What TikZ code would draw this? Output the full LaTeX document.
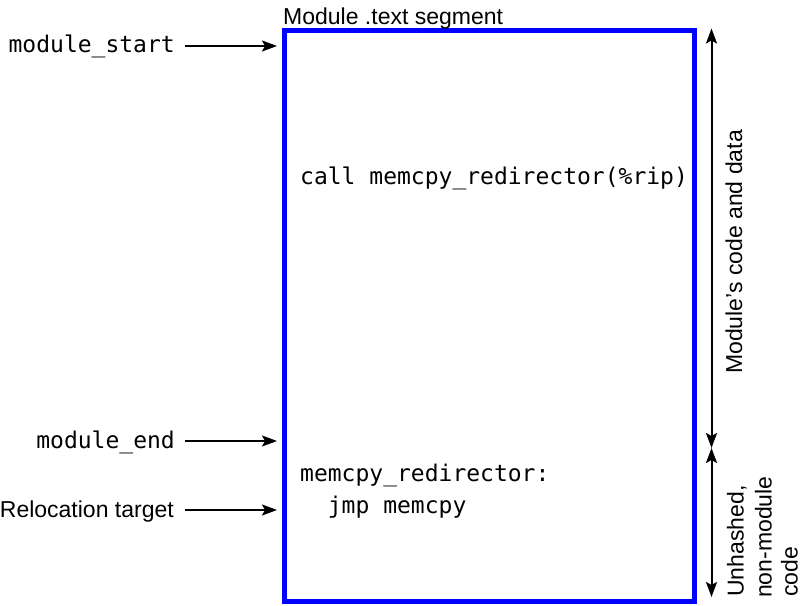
\documentclass[tikz,border=0pt]{standalone}
\usepackage{fontspec}
\setmainfont{Liberation Sans}
\setmonofont{DejaVu Sans Mono}
\usetikzlibrary{arrows.meta}
\begin{document}
\begin{tikzpicture}[x=1pt,y=1pt,
  lbl/.style={font=\fontsize{23}{26}\selectfont, inner sep=0pt},
  mlbl/.style={font=\fontsize{23}{26}\ttfamily, inner sep=0pt},
  code/.style={font=\fontsize{23}{31}\ttfamily, inner sep=0pt},
  arr/.style={-{Stealth[length=15pt,width=11pt,inset=3pt]}, line width=2pt},
  darr/.style={{Stealth[length=15pt,width=11pt,inset=3pt]}-{Stealth[length=15pt,width=11pt,inset=3pt]}, line width=2pt},
  segbox/.style={draw=blue, line width=5pt}]
\useasboundingbox (0,0) rectangle (800,605);
% box
\draw[segbox] (284,4) rectangle (694,574.3);
\node[lbl, anchor=base west] (title) at (283,580) {Module .text segment};
% left labels
\node[mlbl, anchor=base east] (ms) at (175,552) {module\_start};
\node[mlbl, anchor=base east] (me) at (175,156) {module\_end};
\node[lbl, anchor=base east] (rt) at (174,88) {Relocation target};
\coordinate (msT) at (277,559);
\coordinate (meT) at (277,164);
\coordinate (rtT) at (277,95);
\draw[arr] (185,559) -- (msT);
\draw[arr] (185,164) -- (meT);
\draw[arr] (185,95) -- (rtT);
% code
\node[code, anchor=base west] (c1) at (300,420) {call memcpy\_redirector(\%rip)};
\node[code, anchor=base west] (c2) at (300,123) {memcpy\_redirector:};
\node[code, anchor=base west] (c3) at (300,92) {\ \ jmp memcpy};
% right arrows
\coordinate (a1) at (711.5,576.5);
\coordinate (a2) at (711.5,157);
\coordinate (a3) at (711.5,8);
\draw[darr] (a1) -- (a2);
\draw[darr] (a2) -- (a3);
\node[lbl, rotate=90, anchor=base] (r1) at (742,353) {Module's code and data};
\node[lbl, rotate=90, anchor=base west] (r2) at (743.5,8) {Unhashed,};
\node[lbl, rotate=90, anchor=base west] (r3) at (771.5,7) {non-module};
\node[lbl, rotate=90, anchor=base west] (r4) at (797.5,8) {code};
\end{tikzpicture}
\end{document}
